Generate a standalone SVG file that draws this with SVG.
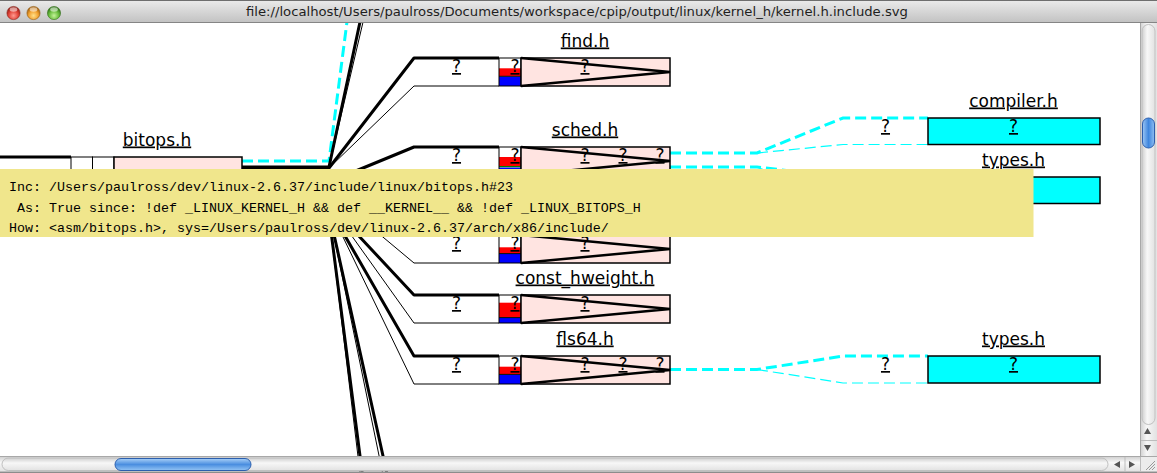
<svg xmlns="http://www.w3.org/2000/svg" width="1157" height="473" viewBox="0 0 1157 473">
<defs>
<style>
.lbl{font-family:"DejaVu Sans",Verdana,sans-serif;font-size:17px;text-anchor:middle;text-decoration:underline;fill:#000}
.tip{font-family:"Liberation Mono","Courier New",monospace;font-size:13.33px;fill:#000}
.title{font-family:"DejaVu Sans","Lucida Grande",sans-serif;font-size:12.5px;fill:#1e1e1e;text-anchor:middle}
.thk{fill:none;stroke:#000;stroke-width:3;stroke-linejoin:round}
.thn{fill:none;stroke:#000;stroke-width:1}
.cyk{fill:none;stroke:#00ffff;stroke-width:3;stroke-dasharray:11 5}
.cyn{fill:none;stroke:#00ffff;stroke-width:1.2;stroke-dasharray:11 5}
.pink{fill:#ffe4e1;stroke:#000;stroke-width:1.5}
.tri{fill:none;stroke:#000;stroke-width:2.5}
.sb{fill:none;stroke:#000;stroke-width:1}
.cy{fill:#00ffff;stroke:#000;stroke-width:1.5}
.red{fill:#ff0000}.blu{fill:#0000ff}.wht{fill:#fff}
.sep{stroke:#000;stroke-width:1}
</style>
<linearGradient id="tbar" x1="0" y1="0" x2="0" y2="1"><stop offset="0" stop-color="#ebebeb"/><stop offset="1" stop-color="#c2c2c2"/></linearGradient>
<radialGradient id="gRed" cx="50%" cy="70%" r="60%"><stop offset="0" stop-color="#ff9a90"/><stop offset="0.6" stop-color="#e2453a"/><stop offset="1" stop-color="#9c1f17"/></radialGradient>
<radialGradient id="gOra" cx="50%" cy="70%" r="60%"><stop offset="0" stop-color="#ffe08a"/><stop offset="0.6" stop-color="#f2a231"/><stop offset="1" stop-color="#a8630d"/></radialGradient>
<radialGradient id="gGrn" cx="50%" cy="70%" r="60%"><stop offset="0" stop-color="#c4f29a"/><stop offset="0.6" stop-color="#6cbf3f"/><stop offset="1" stop-color="#347a1c"/></radialGradient>
<linearGradient id="vtrack" x1="0" y1="0" x2="1" y2="0"><stop offset="0" stop-color="#cfcfcf"/><stop offset="0.4" stop-color="#f7f7f7"/><stop offset="1" stop-color="#e2e2e2"/></linearGradient>
<linearGradient id="htrack" x1="0" y1="0" x2="0" y2="1"><stop offset="0" stop-color="#cfcfcf"/><stop offset="0.4" stop-color="#f7f7f7"/><stop offset="1" stop-color="#e2e2e2"/></linearGradient>
<linearGradient id="vthumb" x1="0" y1="0" x2="1" y2="0"><stop offset="0" stop-color="#9cc6f4"/><stop offset="0.5" stop-color="#3f86de"/><stop offset="1" stop-color="#8fbff2"/></linearGradient>
<linearGradient id="hthumb" x1="0" y1="0" x2="0" y2="1"><stop offset="0" stop-color="#a9d0f7"/><stop offset="0.5" stop-color="#4a8ee0"/><stop offset="1" stop-color="#93c4f4"/></linearGradient>
</defs>

<rect x="0" y="0" width="1157" height="473" fill="#fff"/>

<g id="connectors">
  <!-- bitops.h incoming top line -->
  <path class="thk" d="M-20,157 L71,157"/>
  <!-- bitops.h fan-out -->
  <path class="cyk" d="M242,161 L329,161 L349.8,0"/>
  <path class="thk" d="M242,167 L329,167 L364.7,0"/>
  <path class="thn" d="M329,167 L368.2,0"/>
  <path class="thk" d="M242,168 L329,168 L414,58 L499,58"/>
  <path class="thn" d="M329,168 L414,86 L499,86"/>
  <path class="thk" d="M242,182 L329,182 L414,147 L499,147"/>
  <path class="thn" d="M329,182 L414,175 L499,175"/>
  <path class="thk" d="M242,192 L329,192 L414,235 L499,235"/>
  <path class="thn" d="M329,192 L414,263 L499,263"/>
  <path class="thk" d="M242,204 L329,204 L414,295 L499,295"/>
  <path class="thn" d="M329,204 L414,323 L499,323"/>
  <path class="thk" d="M242,208 L329,208 L414,356 L499,356"/>
  <path class="thn" d="M329,208 L414,384 L499,384"/>
  <path class="thk" d="M242,212 L329,212 L386.8,473"/>
  <path class="thn" d="M329,212 L382.6,473"/>
  <path class="thk" d="M242,216 L329,216 L362.2,473"/>
  <path class="thn" d="M329,216 L360,473"/>
  <!-- sched.h children -->
  <path class="cyk" d="M670,153 L757,153 L843,118 L928,118"/>
  <path class="cyn" d="M757,153 L843,144.5 L928,144.5"/>
  <path class="cyk" d="M670,167 L757,167 L843,177 L928,177"/>
  <path class="cyn" d="M757,167 L843,203.5 L928,203.5"/>
  <!-- fls64.h child -->
  <path class="cyk" d="M670,369.5 L757,369.5 L843,356 L928,356"/>
  <path class="cyn" d="M757,369.5 L843,383 L928,383"/>
</g>

<g id="node-bitops">
  <text class="lbl" x="157" y="145.5">bitops.h</text>
  <rect class="wht" x="71" y="157" width="21.5" height="68" stroke="#000" stroke-width="1"/>
  <rect class="wht" x="92.5" y="157" width="21.5" height="68" stroke="#000" stroke-width="1"/>
  <rect class="pink" x="114" y="157" width="128" height="68"/>
</g>

<g id="node-find">
  <text class="lbl" x="585" y="46.5">find.h</text>
  <text class="lbl" x="456.5" y="72">?</text>
  <rect class="wht" x="499" y="58" width="22" height="28"/>
  <rect class="red" x="499" y="68.3" width="22" height="7.7"/>
  <rect class="blu" x="499" y="76.6" width="22" height="9.4"/>
  <line class="sep" x1="499" y1="76.3" x2="521" y2="76.3"/>
  <rect class="sb" x="499" y="58" width="22" height="28"/>
  <text class="lbl" x="515" y="72">?</text>
  <rect class="pink" x="521" y="58" width="149" height="28"/>
  <polyline class="tri" points="521,58 670,72 521,86"/>
  <text class="lbl" x="585" y="72">?</text>
</g>

<g id="node-sched">
  <text class="lbl" x="585" y="135.5">sched.h</text>
  <text class="lbl" x="456.5" y="161">?</text>
  <rect class="wht" x="499" y="147" width="22" height="28"/>
  <rect class="red" x="499" y="157" width="22" height="9"/>
  <rect class="blu" x="499" y="167.5" width="22" height="7.5"/>
  <line x1="499" y1="166.6" x2="521" y2="166.6" stroke="#008000" stroke-width="1.2"/>
  <rect class="sb" x="499" y="147" width="22" height="28"/>
  <text class="lbl" x="515" y="161">?</text>
  <rect class="pink" x="521" y="147" width="149" height="28"/>
  <polyline class="tri" points="521,147 670,161 521,175"/>
  <text class="lbl" x="585" y="161">?</text>
  <text class="lbl" x="623" y="161">?</text>
  <text class="lbl" x="660" y="161">?</text>
</g>

<g id="node-compiler">
  <text class="lbl" x="1013.5" y="106.5">compiler.h</text>
  <text class="lbl" x="885.5" y="132">?</text>
  <rect class="cy" x="928" y="118" width="172" height="26.5"/>
  <text class="lbl" x="1013.5" y="132">?</text>
</g>

<g id="node-types-a">
  <text class="lbl" x="1013.5" y="165.5">types.h</text>
  <rect class="cy" x="928" y="177" width="172" height="26.5"/>
</g>

<g id="node-hidden">
  <text class="lbl" x="456.5" y="249">?</text>
  <rect class="wht" x="499" y="235" width="22" height="28"/>
  <rect class="red" x="499" y="247.3" width="22" height="6"/>
  <rect class="blu" x="499" y="254" width="22" height="9"/>
  <line class="sep" x1="499" y1="253.6" x2="521" y2="253.6"/>
  <rect class="sb" x="499" y="235" width="22" height="28"/>
  <text class="lbl" x="515" y="249">?</text>
  <rect class="pink" x="521" y="235" width="149" height="28"/>
  <polyline class="tri" points="521,235 670,249 521,263"/>
  <text class="lbl" x="585" y="249">?</text>
</g>

<g id="node-const_hweight">
  <text class="lbl" x="585" y="283.5">const_hweight.h</text>
  <text class="lbl" x="456.5" y="309">?</text>
  <rect class="wht" x="499" y="295" width="22" height="28"/>
  <rect class="red" x="499" y="302.7" width="22" height="14.5"/>
  <rect class="blu" x="499" y="318" width="22" height="5"/>
  <line class="sep" x1="499" y1="317.6" x2="521" y2="317.6"/>
  <rect class="sb" x="499" y="295" width="22" height="28"/>
  <text class="lbl" x="515" y="309">?</text>
  <rect class="pink" x="521" y="295" width="149" height="28"/>
  <polyline class="tri" points="521,295 670,309 521,323"/>
  <text class="lbl" x="585" y="309">?</text>
</g>

<g id="node-fls64">
  <text class="lbl" x="585" y="344.5">fls64.h</text>
  <text class="lbl" x="456.5" y="370">?</text>
  <rect class="wht" x="499" y="356" width="22" height="28"/>
  <rect class="red" x="499" y="366.7" width="22" height="7.3"/>
  <rect class="blu" x="499" y="374.8" width="22" height="9.2"/>
  <line class="sep" x1="499" y1="374.4" x2="521" y2="374.4"/>
  <rect class="sb" x="499" y="356" width="22" height="28"/>
  <text class="lbl" x="515" y="370">?</text>
  <rect class="pink" x="521" y="356" width="149" height="28"/>
  <polyline class="tri" points="521,356 670,370 521,384"/>
  <text class="lbl" x="585" y="370">?</text>
  <text class="lbl" x="623" y="370">?</text>
  <text class="lbl" x="660" y="370">?</text>
</g>

<g id="node-types-b">
  <text class="lbl" x="1013.5" y="344.5">types.h</text>
  <text class="lbl" x="885.5" y="370">?</text>
  <rect class="cy" x="928" y="356" width="172" height="27"/>
  <text class="lbl" x="1013.5" y="370">?</text>
</g>

<g id="tooltip">
  <rect x="0" y="169" width="1033.5" height="68" fill="#f0e68c"/>
  <text class="tip" x="9" y="191">Inc: /Users/paulross/dev/linux-2.6.37/include/linux/bitops.h#23</text>
  <text class="tip" x="17" y="211.5">As: True since: !def _LINUX_KERNEL_H &amp;&amp; def __KERNEL__ &amp;&amp; !def _LINUX_BITOPS_H</text>
  <text class="tip" x="9" y="232">How: &lt;asm/bitops.h&gt;, sys=/Users/paulross/dev/linux-2.6.37/arch/x86/include/</text>
</g>

<g id="window-chrome">
  <rect x="0" y="0" width="1157" height="22.5" fill="url(#tbar)"/>
  <line x1="0" y1="0.5" x2="1157" y2="0.5" stroke="#6e6e6e"/>
  <line x1="0" y1="22.5" x2="1157" y2="22.5" stroke="#858585"/>
  <circle cx="13.5" cy="13" r="6.6" fill="url(#gRed)" stroke="#8a2a22" stroke-width="0.6"/>
  <circle cx="33.5" cy="13" r="6.6" fill="url(#gOra)" stroke="#946019" stroke-width="0.6"/>
  <circle cx="54" cy="13" r="6.6" fill="url(#gGrn)" stroke="#3b7323" stroke-width="0.6"/>
  <ellipse cx="13.5" cy="9.5" rx="3.8" ry="2.2" fill="#fff" opacity="0.55"/>
  <ellipse cx="33.5" cy="9.5" rx="3.8" ry="2.2" fill="#fff" opacity="0.55"/>
  <ellipse cx="54" cy="9.5" rx="3.8" ry="2.2" fill="#fff" opacity="0.55"/>
  <text class="title" x="577" y="16" textLength="662" lengthAdjust="spacingAndGlyphs">file://localhost/Users/paulross/Documents/workspace/cpip/output/linux/kernel_h/kernel.h.include.svg</text>

  <!-- vertical scrollbar -->
  <rect x="1140" y="23" width="17" height="434" fill="url(#vtrack)"/>
  <line x1="1140.5" y1="23" x2="1140.5" y2="457" stroke="#a8a8a8"/>
  <rect x="1142" y="24.5" width="13" height="400" rx="6.5" fill="url(#vtrack)" stroke="#c0c0c0"/>
  <rect x="1142.5" y="118" width="12" height="30" rx="6" fill="url(#vthumb)" stroke="#2c5fae"/>
  <line x1="1141" y1="440.5" x2="1157" y2="440.5" stroke="#bdbdbd"/>
  <polygon points="1144,434 1151,434 1147.5,428" fill="#555"/>
  <polygon points="1144,445 1151,445 1147.5,451" fill="#555"/>

  <!-- horizontal scrollbar -->
  <rect x="0" y="456.5" width="1140" height="15" fill="url(#htrack)"/>
  <line x1="0" y1="456.5" x2="1157" y2="456.5" stroke="#a8a8a8"/>
  <rect x="2" y="458" width="1106" height="12.5" rx="6.25" fill="url(#htrack)" stroke="#c0c0c0"/>
  <rect x="115" y="458.5" width="136" height="12" rx="6" fill="url(#hthumb)" stroke="#2c5fae"/>
  <line x1="1125" y1="457" x2="1125" y2="471" stroke="#bdbdbd"/>
  <polygon points="1120,461 1120,468 1114,464.5" fill="#555"/>
  <polygon points="1129,461 1129,468 1135,464.5" fill="#555"/>
  <rect x="1140" y="457" width="17" height="14.5" fill="#ececec"/>
  <line x1="1140.5" y1="457" x2="1140.5" y2="471" stroke="#bdbdbd"/>
  <line x1="1146" y1="470" x2="1155" y2="461" stroke="#999"/>
  <line x1="1149" y1="470" x2="1155" y2="464" stroke="#999"/>
  <line x1="1152" y1="470" x2="1155" y2="467" stroke="#999"/>
  <rect x="0" y="471.5" width="1157" height="1.5" fill="#8c8c8c"/>
</g>
</svg>
